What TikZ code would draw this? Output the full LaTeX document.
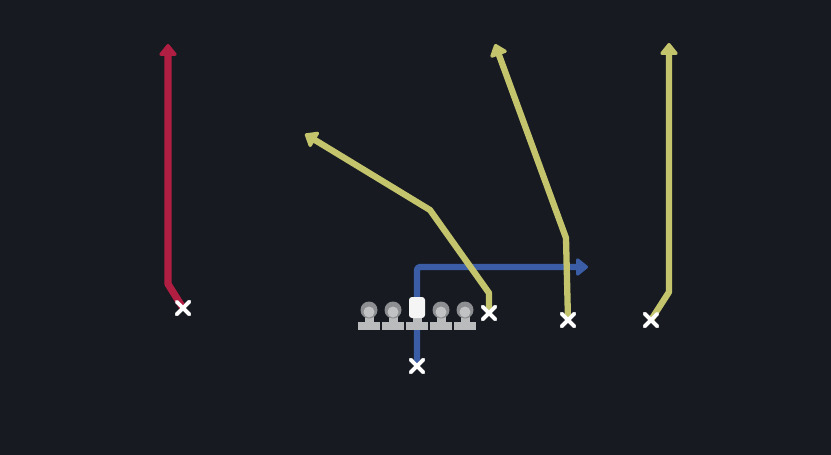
\documentclass[tikz,border=0pt]{standalone}
\usetikzlibrary{arrows.meta,shapes.misc}
\definecolor{bg}{HTML}{171A21}
\definecolor{routered}{HTML}{B01E42}
\definecolor{routeyel}{HTML}{C3C46C}
\definecolor{routeblue}{HTML}{3A5DA6}
\definecolor{olgray}{HTML}{B9BBBD}
\definecolor{olhead}{HTML}{8C8E91}
\tikzset{
  xmark/.style={cross out, draw=white, line width=3.8pt, minimum size=9pt, inner sep=0pt, line cap=round},
  route/.style={line width=6.3pt, line join=round, -{Triangle[length=13pt,width=20pt,round]}},
  lm/.pic={
    \fill[olgray] (-11,9) rectangle (11,17);
    \fill[olgray] (-4.5,0) rectangle (4.5,10);
    \fill[olhead] (0,-3) circle (8.5);
    \fill[olgray!90!white] (0,-1) circle (5.5);
  },
  cm/.pic={
    \fill[olgray] (-11,9) rectangle (11,17);
    \fill[olgray] (-4.5,3) rectangle (4.5,10);
    \fill[white!92!gray, rounded corners=3pt] (-8,-16) rectangle (8,5);
  }
}
\begin{document}
\begin{tikzpicture}[x=1pt,y=-1pt]
\fill[bg] (0,0) rectangle (831,455);
\useasboundingbox (0,0) rectangle (831,455);

% start markers
\node[xmark] (xr) at (183,308) {};
\node[xmark] (xy1) at (489,313) {};
\node[xmark] (xy2) at (568,320) {};
\node[xmark] (xy3) at (651,320) {};
\node[xmark] (xb) at (417,366) {};

% bends and ends
\coordinate (r1) at (168,284);
\coordinate (r2) at (168,44);
\coordinate (b1) at (417,267);
\coordinate (b2) at (588,267);
\coordinate (y1a) at (489,293);
\coordinate (y1b) at (430,210);
\coordinate (y1c) at (305,134);
\coordinate (y2a) at (566,238);
\coordinate (y2b) at (495,44);
\coordinate (y3a) at (669,292);
\coordinate (y3b) at (669,43);

% routes
\draw[route, routeblue, rounded corners=3pt] (xb.center) -- (b1) -- (b2);
\draw[route, routered, line width=7.2pt] (xr.center) -- (r1) -- (r2);
\draw[route, routeyel] (xy1.center) -- (y1a) -- (y1b) -- (y1c);
\draw[route, routeyel] (xy2.center) -- (y2a) -- (y2b);
\draw[route, routeyel] (xy3.center) -- (y3a) -- (y3b);

% offensive line
\pic at (369,313) {lm};
\pic at (393,313) {lm};
\pic at (417,313) {cm};
\pic at (441,313) {lm};
\pic at (465,313) {lm};

% redraw markers on top
\node[xmark] at (xr) {};
\node[xmark] at (xy1) {};
\node[xmark] at (xy2) {};
\node[xmark] at (xy3) {};
\node[xmark] at (xb) {};
\end{tikzpicture}
\end{document}
